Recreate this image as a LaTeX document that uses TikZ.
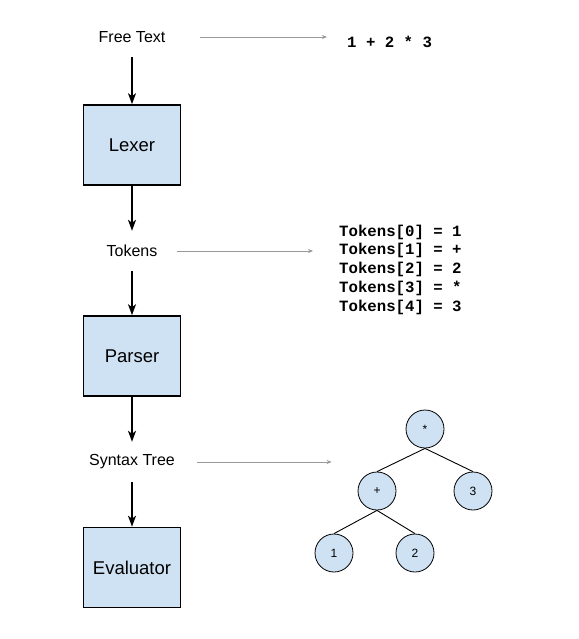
\documentclass[tikz,border=0pt]{standalone}
\usepackage{fontspec}
\setmainfont{Liberation Sans}
\setmonofont{Liberation Mono}
\usetikzlibrary{arrows.meta}
\definecolor{boxblue}{HTML}{CFE2F3}
\begin{document}
\begin{tikzpicture}[x=1pt,y=-1pt,
	stage/.style={draw,line width=1.6pt,fill=boxblue,minimum width=97pt,minimum height=80pt,font=\fontsize{18.5}{22}\selectfont},
	lbl/.style={inner xsep=0pt,minimum height=40pt,font=\fontsize{16}{19}\selectfont},
	code/.style={inner sep=0pt,align=left,anchor=west,font=\fontsize{15.7}{18.75}\selectfont\ttfamily\bfseries},
	leaf/.style={draw,circle,fill=boxblue,line width=0.8pt,minimum size=38pt,inner sep=0pt,font=\fontsize{12}{14}\selectfont},
	flow/.style={line width=1.6pt,-{Stealth[length=11pt,width=8pt,inset=3pt]}},
	aside/.style={gray!80,line width=0.7pt,-{Stealth[length=5pt,width=4pt]}},
	twig/.style={line width=0.9pt}]
	\useasboundingbox (0,0) rectangle (578,639);
	% pipeline
	\node[lbl] (ft) at (132,37) {Free Text};
	\node[stage] (lexer) at (132,145) {Lexer};
	\node[lbl] (tok) at (132,251) {Tokens};
	\node[stage] (parser) at (132,356) {Parser};
	\node[lbl] (st) at (132,462) {Syntax Tree};
	\node[stage] (eval) at (132,567.5) {Evaluator};
	\draw[flow] (ft) -- (lexer);
	\draw[flow] (lexer) -- (tok);
	\draw[flow] (tok) -- (parser);
	\draw[flow] (parser) -- (st);
	\draw[flow] (st) -- (eval);
	% examples
	\node[code] (expr) at (347,42) {1 + 2 * 3};
	\node[code] (toklist) at (339,269.5) {Tokens[0] = 1\\Tokens[1] = +\\Tokens[2] = 2\\Tokens[3] = *\\Tokens[4] = 3};
	\node[leaf] (star) at (425,429) {*};
	\node[leaf] (plus) at (377,491) {+};
	\node[leaf] (three) at (473,491) {3};
	\node[leaf] (one) at (334,553) {1};
	\node[leaf] (two) at (415,553) {2};
	\draw[twig] (star.south) -- (plus.north);
	\draw[twig] (star.south) -- (three.north);
	\draw[twig] (plus.south) -- (one.north);
	\draw[twig] (plus.south) -- (two.north);
	\draw[aside,shorten <=34pt,shorten >=20pt] (ft.east) -- (ft.east -| expr.west);
	\draw[aside,shorten <=19pt,shorten >=26pt] (tok.east) -- (tok.east -| toklist.west);
	\draw[aside,shorten <=22pt,shorten >=26pt] (st.east) -- (st.east -| plus.west);
\end{tikzpicture}
\end{document}
